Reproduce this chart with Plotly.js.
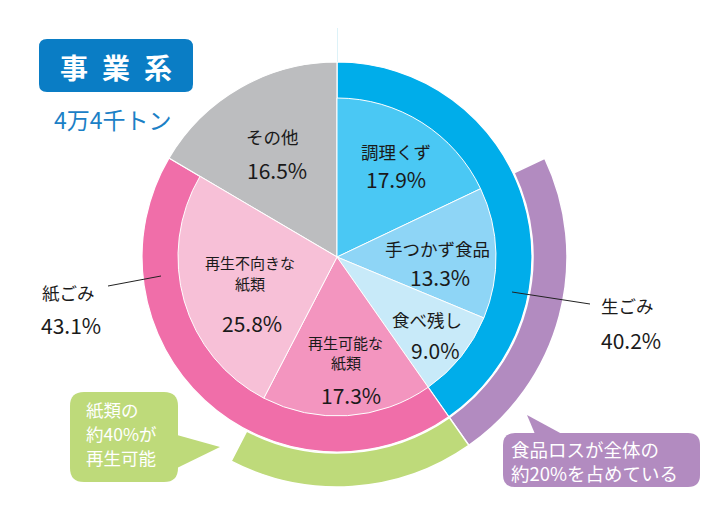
<!DOCTYPE html>
<html><head><meta charset="utf-8">
<script src="https://cdn.plot.ly/plotly-3.0.1.min.js"></script>
<style>html,body{margin:0;padding:0;background:#fff;}</style>
</head><body>
<div id="chart" style="width:704px;height:506px;"></div>
<script>
// ---- data ----
const detailLabels = ['調理くず','手つかず食品','食べ残し','再生可能な紙類','再生不向きな紙類','その他'];
const detailDisplay = [['調理くず'],['手つかず食品'],['食べ残し'],['再生可能な','紙類'],['再生不向きな','紙類'],['その他']];
const detailValues = [17.9, 13.3, 9.0, 17.3, 25.8, 16.5];
const groupLabels = ['生ごみ','紙ごみ','その他'];
const groupValues = [40.2, 43.1, 16.5];
const noteLabels = ['(空白A)','食品ロス','再生可能な紙類','(空白B)'];
const noteValues = [17.9, 22.3, 17.3, 42.3];
const foodLossNote = ['食品ロスが全体の','約20%を占めている'];
const paperNote = ['紙類の','約40%が','再生可能'];
const titleText = '事\u2002業\u2002系';
const subtitleText = '4万4千トン';

// ---- styles ----
const detailColors = ['#4AC8F4','#8ED5F6','#C8EAF9','#F395BF','#F7C0D7','rgba(0,0,0,0)'];
const groupColors = ['#00ADEA','#F06EA9','#BCBDBF'];
const noteColors = ['rgba(0,0,0,0)','#B28BC0','#BEDA7A','rgba(0,0,0,0)'];
const W = 704, H = 506, CX = 337, CY = 257;
const FONT = '"Noto Sans CJK JP", "Noto Sans", sans-serif';
const TXT = '#1a1a1a';
function dom(R){ return {x:[(CX-R)/W,(CX+R)/W], y:[(H-CY-R)/H,(H-CY+R)/H]}; }
const px = x => x/W, py = y => 1 - y/H;
function P(x,y){ return px(x).toFixed(5)+','+py(y).toFixed(5); }
function rrect(x0,y0,x1,y1,r){
  return `M${P(x0+r,y0)} L${P(x1-r,y0)} Q${P(x1,y0)} ${P(x1,y0+r)} L${P(x1,y1-r)} Q${P(x1,y1)} ${P(x1-r,y1)} L${P(x0+r,y1)} Q${P(x0,y1)} ${P(x0,y1-r)} L${P(x0,y0+r)} Q${P(x0,y0)} ${P(x0+r,y0)} Z`;
}
function tri(a,b,c){ return `M${P(a[0],a[1])} L${P(b[0],b[1])} L${P(c[0],c[1])} Z`; }

const common = {type:'pie', sort:false, direction:'clockwise', rotation:0,
  textinfo:'none', hoverinfo:'label+value', showlegend:false};

const traces = [
  Object.assign({}, common, {
    labels: noteLabels, values: noteValues, hole: 196/230, domain: dom(230),
    marker:{colors: noteColors, line:{color:'#ffffff', width:[0,1.5,1.5,0]}}
  }),
  Object.assign({}, common, {
    labels: groupLabels, values: groupValues, hole: 0, domain: dom(195),
    marker:{colors: groupColors, line:{color:'#ffffff', width:1.2}}
  }),
  Object.assign({}, common, {
    labels: detailLabels, values: detailValues, hole: 0, domain: dom(159),
    marker:{colors: detailColors, line:{color:'#ffffff', width:[1,1,1,1,1,0]}}
  })
];

function A(x,y,text,size,opts){
  return Object.assign({xref:'paper', yref:'paper', x:px(x), y:py(y), text:text,
    showarrow:false, xanchor:'center', yanchor:'middle', borderpad:0,
    font:{family:FONT, size:size, color:TXT}}, opts||{});
}
const pct = v => v.toFixed(1) + '%';
const NS = 17.5, PS = 21, SS = 15;

const annotations = [
  A(396,151,detailDisplay[0][0],NS), A(396,179,pct(detailValues[0]),PS),
  A(437,248,detailDisplay[1][0],NS), A(440,277,pct(detailValues[1]),PS),
  A(427,319,detailDisplay[2][0],NS), A(436,350,pct(detailValues[2]),PS),
  A(345,342,detailDisplay[3][0],SS), A(346,362,detailDisplay[3][1],SS), A(351,395,pct(detailValues[3]),PS),
  A(250,262,detailDisplay[4][0],SS), A(250,283,detailDisplay[4][1],SS), A(252,323,pct(detailValues[4]),PS),
  A(272,136,detailDisplay[5][0],NS), A(277,170,pct(detailValues[5]),PS),
  A(41,292,groupLabels[1],NS,{xanchor:'left'}), A(40,325,pct(groupValues[1]),PS,{xanchor:'left'}),
  A(600,305,groupLabels[0],NS,{xanchor:'left'}), A(600,340,pct(groupValues[0]),PS,{xanchor:'left'}),
  A(116,67,'<b>'+titleText+'</b>',28,{font:{family:FONT,size:28,color:'#ffffff'}}),
  A(113,119,subtitleText,23,{font:{family:FONT,size:23,color:'#1B80C6'}}),
  A(510,449,foodLossNote[0],18.5,{xanchor:'left', font:{family:FONT,size:18.5,color:'#ffffff'}}),
  A(510,473,foodLossNote[1],18.5,{xanchor:'left', font:{family:FONT,size:18.5,color:'#ffffff'}}),
  A(85,409,paperNote[0],17.5,{xanchor:'left', font:{family:FONT,size:17.5,color:'#ffffff'}}),
  A(85,433,paperNote[1],17.5,{xanchor:'left', font:{family:FONT,size:17.5,color:'#ffffff'}}),
  A(85,457,paperNote[2],17.5,{xanchor:'left', font:{family:FONT,size:17.5,color:'#ffffff'}})
];

const shapes = [
  {type:'path', xref:'paper', yref:'paper', path: rrect(39,39,193,92,8), fillcolor:'#0A7DC5', line:{width:0}},
  {type:'path', xref:'paper', yref:'paper', path: rrect(70,392,178,482,14), fillcolor:'#BEDA7A', line:{width:0}},
  {type:'path', xref:'paper', yref:'paper', path: tri([177,435],[220,447],[177,468]), fillcolor:'#BEDA7A', line:{width:0}},
  {type:'path', xref:'paper', yref:'paper', path: rrect(503,433,700,487,12), fillcolor:'#B28BC0', line:{width:0}},
  {type:'path', xref:'paper', yref:'paper', path: tri([527,415],[535,434],[562,434]), fillcolor:'#B28BC0', line:{width:0}},
  {type:'line', xref:'paper', yref:'paper', x0:px(108), y0:py(286), x1:px(161), y1:py(276), line:{color:'#222', width:1}},
  {type:'line', xref:'paper', yref:'paper', x0:px(512), y0:py(292), x1:px(590), y1:py(304), line:{color:'#222', width:1}},
  {type:'line', xref:'paper', yref:'paper', x0:px(337.5), y0:py(28), x1:px(337.5), y1:py(62), line:{color:'#DDF2F8', width:1}}
];

const layout = {width:W, height:H, margin:{l:0,r:0,t:0,b:0}, paper_bgcolor:'#ffffff',
  plot_bgcolor:'#ffffff', showlegend:false, annotations:annotations, shapes:shapes,
  font:{family:FONT}};

Plotly.newPlot('chart', traces, layout, {displayModeBar:false, staticPlot:true});
</script>
</body></html>
